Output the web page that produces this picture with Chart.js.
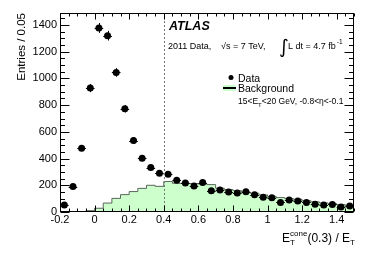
<!DOCTYPE html>
<html>
<head>
<meta charset="utf-8">
<script src="https://cdn.jsdelivr.net/npm/chart.js@4"></script>
<style>
  html, body { margin: 0; padding: 0; background: #fff; }
</style>
</head>
<body>
<canvas id="isoChart" width="374" height="253"></canvas>
<script>
// binned data, bin width 0.05
const binWidth = 0.05;
const binCenters = [-0.175, -0.125, -0.075, -0.025, 0.025, 0.075, 0.125, 0.175, 0.225, 0.275,
  0.325, 0.375, 0.425, 0.475, 0.525, 0.575, 0.625, 0.675, 0.725, 0.775,
  0.825, 0.875, 0.925, 0.975, 1.025, 1.075, 1.125, 1.175, 1.225, 1.275,
  1.325, 1.375, 1.425, 1.475];
const dataCounts = [52, 190, 478, 928, 1378, 1320, 1045, 773, 535, 403,
  333, 290, 282, 238, 218, 195, 220, 160, 165, 150,
  142, 152, 130, 110, 107, 72, 90, 82, 72, 58,
  53, 57, 37, 45];
const backgroundCounts = [0, 0, 0, 10, 28, 67, 102, 130, 153, 177,
  200, 192, 228, 215, 215, 213, 210, 205, 178, 168,
  160, 150, 140, 128, 117, 108, 100, 95, 85, 76,
  68, 62, 55, 48];
const xTickLabels = [-0.2, 0, 0.2, 0.4, 0.6, 0.8, 1, 1.2, 1.4];
const yTickLabels = [0, 200, 400, 600, 800, 1000, 1200, 1400];
const xRange = [-0.2, 1.5];
const yRange = [0, 1490];
const isolationCut = 0.4;

const FONT = "'Liberation Sans', Arial, Helvetica, sans-serif";

const dataPoints = binCenters.map((x, i) => ({ x: x, y: dataCounts[i] }));
const bgPoints = binCenters.map((x, i) => ({ x: x - binWidth / 2, y: backgroundCounts[i] }));
bgPoints.push({ x: xRange[1], y: backgroundCounts[backgroundCounts.length - 1] });

function put(ctx, str, x, y, size, style, family) {
  ctx.font = (style || '') + ' ' + size + 'px ' + (family || FONT);
  ctx.fillText(str, x, y);
  return ctx.measureText(str).width;
}

const rootStyle = {
  id: 'rootStyle',
  afterDatasetsDraw(chart) {
    const { ctx, chartArea: a, scales: { x, y } } = chart;
    ctx.save();
    // error bars on data
    ctx.strokeStyle = '#000';
    ctx.lineWidth = 1;
    ctx.beginPath();
    binCenters.forEach((c, i) => {
      const n = dataCounts[i];
      const err = Math.sqrt(n);
      const px = Math.round(x.getPixelForValue(c)) + 0.5;
      const py = Math.round(y.getPixelForValue(n)) + 0.5;
      ctx.moveTo(x.getPixelForValue(c - binWidth / 2), py);
      ctx.lineTo(x.getPixelForValue(c + binWidth / 2), py);
      ctx.moveTo(px, y.getPixelForValue(n - err));
      ctx.lineTo(px, y.getPixelForValue(n + err));
    });
    ctx.stroke();

    // cut line
    const cx = Math.round(x.getPixelForValue(isolationCut)) + 0.5;
    ctx.strokeStyle = '#777';
    ctx.setLineDash([2, 2]);
    ctx.beginPath();
    ctx.moveTo(cx, a.top);
    ctx.lineTo(cx, a.bottom);
    ctx.stroke();
    ctx.restore();
  },
  afterDraw(chart) {
    const { ctx, chartArea: a, scales: { x, y } } = chart;
    ctx.save();
    ctx.strokeStyle = '#000';
    ctx.lineWidth = 1;
    const L = Math.round(a.left) + 0.5, R = Math.round(a.right) - 0.5;
    const T = Math.round(a.top) + 0.5, B = Math.round(a.bottom) - 0.5;
    ctx.strokeRect(L, T, R - L, B - T);

    // ticks inside the frame, ROOT style
    ctx.beginPath();
    for (let v = xRange[0]; v <= xRange[1] + 1e-9; v += binWidth) {
      const major = xTickLabels.some(t => Math.abs(t - v) < 1e-6);
      const len = major ? 6 : 3;
      const px = Math.round(x.getPixelForValue(v)) + 0.5;
      ctx.moveTo(px, B); ctx.lineTo(px, B - len);
      ctx.moveTo(px, T); ctx.lineTo(px, T + len);
    }
    for (let v = yRange[0]; v <= yRange[1]; v += 50) {
      const major = v % 200 === 0;
      const len = major ? 9 : 4.5;
      const py = Math.round(y.getPixelForValue(v)) + 0.5;
      ctx.moveTo(L, py); ctx.lineTo(L + len, py);
      ctx.moveTo(R, py); ctx.lineTo(R - len, py);
    }
    ctx.stroke();

    // text
    ctx.fillStyle = '#000';
    ctx.textBaseline = 'alphabetic';
    ctx.textAlign = 'left';

    // x-axis title, right aligned to the frame
    ctx.font = '12px ' + FONT;
    const wE = ctx.measureText('E').width;
    const wMid = ctx.measureText('(0.3) / E').width;
    ctx.font = '8px ' + FONT;
    const wCone = ctx.measureText('cone').width;
    const wT = ctx.measureText('T').width;
    let tx = a.right + 1 - (wE + wCone + wMid + wT);
    const ty = 242;
    tx += put(ctx, 'E', tx, ty, 12);
    put(ctx, 'T', tx, ty + 3, 8);
    tx += put(ctx, 'cone', tx, ty - 6, 8);
    tx += put(ctx, '(0.3) / E', tx, ty, 12);
    put(ctx, 'T', tx, ty + 3, 8);

    // ATLAS label
    put(ctx, 'ATLAS', 169, 30, 12.5, 'italic bold');

    // run info
    const iy = 48.5;
    put(ctx, '2011 Data,', 168, iy, 9);
    put(ctx, '\u221As = 7 TeV,', 221, iy, 9);
    put(ctx, '\u222B', 279, 53, 19, '', "'DejaVu Sans', sans-serif");
    const ix = 288 + put(ctx, 'L dt = 4.7 fb', 288, iy, 9);
    put(ctx, '-1', ix + 1, iy - 5, 6.5);

    // legend
    const dataSet = chart.data.datasets[0], bgSet = chart.data.datasets[1];
    ctx.beginPath();
    ctx.arc(231, 77.5, 2.5, 0, Math.PI * 2);
    ctx.fill();
    put(ctx, dataSet.label, 238, 81.5, 10.5);
    ctx.fillStyle = bgSet.backgroundColor;
    ctx.fillRect(223, 85, 13, 6);
    ctx.fillStyle = '#000';
    ctx.fillRect(223, 87, 13, 2);
    put(ctx, bgSet.label, 238, 92, 10.5);

    // selection
    let sx = 238;
    const sy = 104;
    sx += put(ctx, '15<E', sx, sy, 8.5);
    sx += put(ctx, 'T', sx, sy + 2.5, 6);
    put(ctx, '<20 GeV, -0.8<\u03B7<-0.1', sx, sy, 8.5);
    ctx.restore();
  }
};

const ctx = document.getElementById('isoChart').getContext('2d');
new Chart(ctx, {
  type: 'scatter',
  data: {
    datasets: [
      {
        label: 'Data',
        data: dataPoints,
        pointRadius: 3.5,
        pointHoverRadius: 3.5,
        backgroundColor: '#000',
        borderWidth: 0,
        order: 0
      },
      {
        label: 'Background',
        type: 'line',
        data: bgPoints,
        showLine: true,
        stepped: true,
        fill: 'origin',
        backgroundColor: '#ccffcc',
        borderColor: '#5a665a',
        borderWidth: 1,
        pointRadius: 0,
        order: 1
      }
    ]
  },
  options: {
    responsive: false,
    animation: false,
    devicePixelRatio: 1,
    layout: { padding: { top: 13, right: 20, left: 0, bottom: 0 } },
    plugins: {
      legend: { display: false },
      tooltip: { enabled: false }
    },
    scales: {
      x: {
        type: 'linear',
        min: xRange[0],
        max: xRange[1],
        grid: { display: false, drawTicks: false },
        border: { display: false },
        afterBuildTicks: s => { s.ticks = xTickLabels.map(v => ({ value: v })); },
        afterFit: s => { s.height = 41; },
        ticks: {
          padding: 1,
          color: '#000',
          autoSkip: false,
          maxRotation: 0,
          font: { family: FONT, size: 11 },
          callback: v => String(v)
        }
      },
      y: {
        min: yRange[0],
        max: yRange[1],
        grid: { display: false, drawTicks: false },
        border: { display: false },
        afterBuildTicks: s => { s.ticks = yTickLabels.map(v => ({ value: v })); },
        afterFit: s => { s.width = 60; },
        ticks: {
          padding: 3,
          color: '#000',
          font: { family: FONT, size: 11 },
          callback: v => String(v)
        },
        title: {
          display: true,
          text: 'Entries / 0.05',
          align: 'end',
          color: '#000',
          font: { family: FONT, size: 11.5 },
          padding: { top: 15, bottom: 0 }
        }
      }
    }
  },
  plugins: [rootStyle]
});
</script>
</body>
</html>
